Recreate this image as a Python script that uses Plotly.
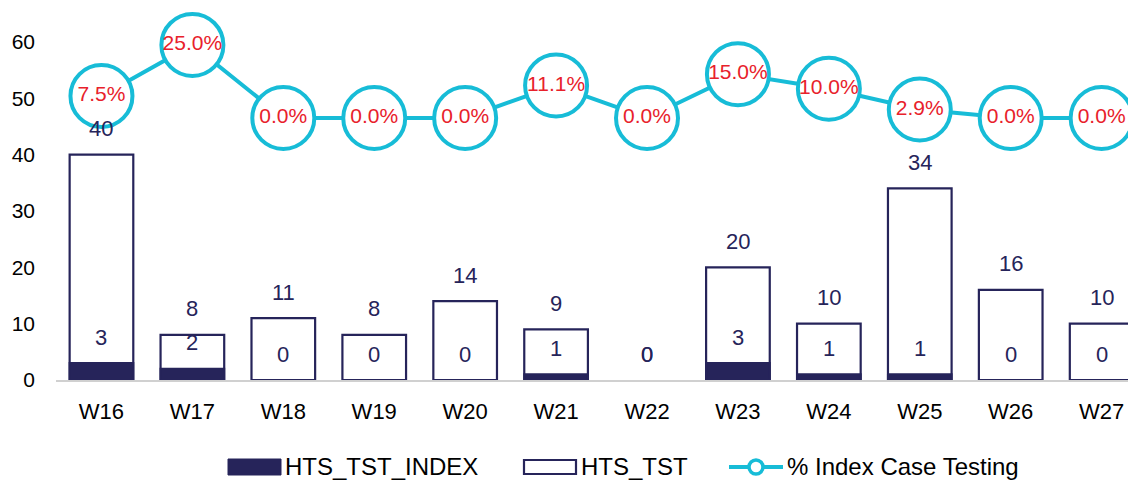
import plotly.graph_objects as go

weeks = ["W16", "W17", "W18", "W19", "W20", "W21", "W22", "W23", "W24", "W25", "W26", "W27"]
hts_tst = [40, 8, 11, 8, 14, 9, 0, 20, 10, 34, 16, 10]
hts_tst_index = [3, 2, 0, 0, 0, 1, 0, 3, 1, 1, 0, 0]
pct_index = [7.5, 25.0, 0.0, 0.0, 0.0, 11.1, 0.0, 15.0, 10.0, 2.9, 0.0, 0.0]

NAVY = "#26245A"
CYAN = "#17BCD7"
RED = "#E8212B"
FONT = "Liberation Sans, Arial"

W, H = 1128, 481
ML, MR, MT, MB = 56, 0, 42, 101
PW, PH = W - ML - MR, H - MT - MB


def px_x(p):
    return (p - ML) / PW


def px_y(p):
    return (H - MB - p) / PH


fig = go.Figure()

fig.add_trace(go.Bar(
    x=weeks, y=hts_tst_index, name="HTS_TST_INDEX",
    marker=dict(color=NAVY, line=dict(color=NAVY, width=[2 if v else 0 for v in hts_tst_index])),
    width=0.7,
))
fig.add_trace(go.Bar(
    x=weeks, y=hts_tst, name="HTS_TST",
    marker=dict(color="rgba(255,255,255,0)",
                line=dict(color=NAVY, width=[2.2 if v else 0 for v in hts_tst])),
    width=0.7,
))
fig.add_trace(go.Scatter(
    x=weeks, y=pct_index, name="% Index Case Testing", yaxis="y2",
    mode="lines+markers+text",
    line=dict(color=CYAN, width=4),
    marker=dict(size=62, color="white", line=dict(color=CYAN, width=4)),
    text=[f"{v:.1f}%" for v in pct_index],
    textposition="middle center",
    textfont=dict(color=RED, size=21, family=FONT),
    cliponaxis=False,
))

# value labels above each bar
for w, v in zip(weeks, hts_tst):
    fig.add_annotation(x=w, y=v, text=str(v), showarrow=False, yshift=26,
                       yanchor="middle", font=dict(color=NAVY, size=22, family=FONT))
for w, v in zip(weeks, hts_tst_index):
    fig.add_annotation(x=w, y=v, text=str(v), showarrow=False, yshift=26,
                       yanchor="middle", font=dict(color=NAVY, size=22, family=FONT))

# legend row drawn with shapes + text so the keys can be wide rectangles
LEG_Y = 467
legend_font = dict(size=24, color="black", family=FONT)
fig.add_shape(type="rect", xref="paper", yref="paper",
              x0=px_x(228), x1=px_x(281), y0=px_y(475), y1=px_y(459),
              fillcolor=NAVY, line=dict(color=NAVY, width=1))
fig.add_annotation(xref="paper", yref="paper", x=px_x(283), y=px_y(LEG_Y),
                   xanchor="left", yanchor="middle", showarrow=False,
                   text="HTS_TST_INDEX", font=legend_font)
fig.add_shape(type="rect", xref="paper", yref="paper",
              x0=px_x(524), x1=px_x(576), y0=px_y(474), y1=px_y(460),
              fillcolor="white", line=dict(color=NAVY, width=2.2))
fig.add_annotation(xref="paper", yref="paper", x=px_x(579), y=px_y(LEG_Y),
                   xanchor="left", yanchor="middle", showarrow=False,
                   text="HTS_TST", font=legend_font)
fig.add_shape(type="line", xref="paper", yref="paper",
              x0=px_x(729), x1=px_x(783), y0=px_y(LEG_Y), y1=px_y(LEG_Y),
              line=dict(color=CYAN, width=4))
fig.add_shape(type="circle", xref="paper", yref="paper",
              x0=px_x(749), x1=px_x(763), y0=px_y(474), y1=px_y(460),
              fillcolor="white", line=dict(color=CYAN, width=3.5))
fig.add_annotation(xref="paper", yref="paper", x=px_x(785), y=px_y(LEG_Y),
                   xanchor="left", yanchor="middle", showarrow=False,
                   text="% Index Case Testing", font=legend_font)

fig.update_layout(
    width=W, height=H,
    margin=dict(l=ML, r=MR, t=MT, b=MB),
    paper_bgcolor="white", plot_bgcolor="white",
    barmode="overlay",
    showlegend=False,
    font=dict(family=FONT, size=20, color="black"),
    xaxis=dict(
        range=[-0.5, 11.29], showgrid=False, showline=True,
        linecolor="#D0D0D0", linewidth=1.5, ticks="",
        ticklabelstandoff=11, automargin=False,
        tickfont=dict(size=22, color="black"),
    ),
    yaxis=dict(
        range=[0, 60], dtick=10, showgrid=False, zeroline=False,
        showline=False, ticks="", ticklabelstandoff=20, automargin=False,
        tickfont=dict(size=21, color="black"),
    ),
    yaxis2=dict(
        range=[-89.7, 26.0], overlaying="y", side="right",
        visible=False, showgrid=False, zeroline=False,
    ),
)

fig.write_html("out.html")
